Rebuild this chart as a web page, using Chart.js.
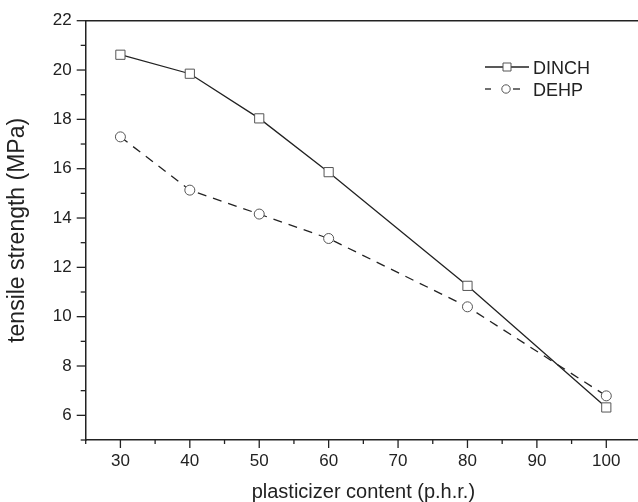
<!DOCTYPE html>
<html><head><meta charset="utf-8">
<script src="https://cdn.jsdelivr.net/npm/chart.js@4/dist/chart.umd.min.js"></script>
<style>html,body{margin:0;padding:0;background:#fff;overflow:hidden}canvas{display:block}</style>
</head><body>
<canvas id="c" width="641" height="502"></canvas>
<script>
const contents = [30, 40, 50, 60, 80, 100];
const dinch = [20.62, 19.85, 18.04, 15.86, 11.25, 6.32];
const dehp = [17.29, 15.13, 14.16, 13.17, 10.40, 6.79];
const xMajorTicks = [30, 40, 50, 60, 70, 80, 90, 100];
const xMinorTicks = [25, 35, 45, 55, 65, 75, 85, 95, 105];
const yMajorTicks = [6, 8, 10, 12, 14, 16, 18, 20, 22];
const yMinorTicks = [5, 7, 9, 11, 13, 15, 17, 19, 21];
const seriesNames = ['DINCH', 'DEHP'];
const xTitle = 'plasticizer content (p.h.r.)';
const yTitle = 'tensile strength (MPa)';

const INK = '#222';
const FONT = "'Liberation Sans', Arial, Helvetica, sans-serif";

const ticksPlugin = {
  id: 'ticksFrame',
  afterDraw(chart) {
    const ctx = chart.ctx, xs = chart.scales.x, ys = chart.scales.y, a = chart.chartArea;
    ctx.save();
    ctx.strokeStyle = INK;
    ctx.lineWidth = 1.5;
    ctx.beginPath(); ctx.moveTo(a.left, a.top); ctx.lineTo(a.right, a.top); ctx.stroke();
    ctx.lineWidth = 1.3;
    const seg = (x1, y1, x2, y2) => { ctx.beginPath(); ctx.moveTo(x1, y1); ctx.lineTo(x2, y2); ctx.stroke(); };
    xMajorTicks.forEach(v => { const p = xs.getPixelForValue(v); seg(p, a.bottom, p, a.bottom + 8); });
    xMinorTicks.forEach(v => { const p = xs.getPixelForValue(v); seg(p, a.bottom, p, a.bottom + 4); });
    yMajorTicks.forEach(v => { const p = ys.getPixelForValue(v); seg(a.left - 9, p, a.left, p); });
    yMinorTicks.forEach(v => { const p = ys.getPixelForValue(v); seg(a.left - 5, p, a.left, p); });
    ctx.restore();
  }
};

const legendPlugin = {
  id: 'customLegend',
  afterDraw(chart) {
    const ctx = chart.ctx;
    ctx.save();
    const x0 = 485, x1 = 529, mx = 507, tx = 533;
    const rows = [67, 89];
    chart.data.datasets.forEach((ds, i) => {
      const y = rows[i];
      ctx.strokeStyle = ds.borderColor;
      ctx.lineWidth = 1.3;
      if (i === 0) {
        ctx.beginPath(); ctx.moveTo(x0, y); ctx.lineTo(x1, y); ctx.stroke();
      } else {
        ctx.beginPath(); ctx.moveTo(x0, y); ctx.lineTo(x0 + 6, y); ctx.stroke();
        ctx.beginPath(); ctx.moveTo(mx + 6, y); ctx.lineTo(mx + 13, y); ctx.stroke();
      }
      ctx.fillStyle = '#fff';
      ctx.strokeStyle = ds.pointBorderColor;
      ctx.lineWidth = 1;
      ctx.beginPath();
      if (ds.pointStyle === 'rect') ctx.rect(mx - 4, y - 4, 8, 8);
      else ctx.arc(mx - 1, y, 4.2, 0, Math.PI * 2);
      ctx.fill(); ctx.stroke();
      ctx.fillStyle = INK;
      ctx.font = "18px " + FONT;
      ctx.textBaseline = 'alphabetic';
      ctx.fillText(ds.label, tx, y + 7);
    });
    ctx.restore();
  }
};

const toPts = vals => contents.map((c, i) => ({ x: c, y: vals[i] }));

new Chart(document.getElementById('c'), {
  type: 'line',
  data: {
    datasets: [
      {
        label: seriesNames[0], data: toPts(dinch),
        borderColor: INK, borderWidth: 1.3, tension: 0,
        pointStyle: 'rect', pointRadius: 6.5, pointBorderWidth: 1,
        pointBorderColor: '#555', pointBackgroundColor: '#fff'
      },
      {
        label: seriesNames[1], data: toPts(dehp),
        borderColor: INK, borderWidth: 1.3, borderDash: [9, 7], tension: 0,
        pointStyle: 'circle', pointRadius: 5, pointBorderWidth: 1,
        pointBorderColor: '#555', pointBackgroundColor: '#fff'
      }
    ]
  },
  options: {
    responsive: false,
    animation: false,
    layout: { autoPadding: false, padding: { left: 0, top: 20.7, right: 0, bottom: 0 } },
    plugins: { legend: { display: false }, tooltip: { enabled: false } },
    scales: {
      x: {
        type: 'linear', min: 25, max: 105,
        afterBuildTicks: s => { s.ticks = xMajorTicks.map(v => ({ value: v })); },
        afterFit: s => { s.height = 62; s.paddingRight = 0; s.paddingLeft = 0; },
        grid: { display: true, drawOnChartArea: false, drawTicks: true, tickLength: 8, tickColor: 'rgba(0,0,0,0)' },
        border: { display: true, color: INK, width: 1.5 },
        ticks: { padding: 3, color: INK, font: { family: FONT, size: 17 }, maxRotation: 0, autoSkip: false },
        title: { display: true, text: xTitle, color: INK, font: { family: FONT, size: 20, lineHeight: 1 }, padding: { top: 0, bottom: 0 } }
      },
      y: {
        type: 'linear', min: 5, max: 22,
        afterBuildTicks: s => { s.ticks = yMajorTicks.map(v => ({ value: v })); },
        afterFit: s => { s.width = 85.7; s.paddingTop = 0; s.paddingBottom = 0; },
        grid: { display: true, drawOnChartArea: false, drawTicks: true, tickLength: 9, tickColor: 'rgba(0,0,0,0)' },
        border: { display: true, color: INK, width: 1.5 },
        ticks: { padding: 5, color: INK, font: { family: FONT, size: 17 }, autoSkip: false },
        title: { display: true, text: yTitle, color: INK, font: { family: FONT, size: 23, lineHeight: 1 }, padding: { top: 6, bottom: 0 } }
      }
    }
  },
  plugins: [ticksPlugin, legendPlugin]
});
</script>
</body></html>
